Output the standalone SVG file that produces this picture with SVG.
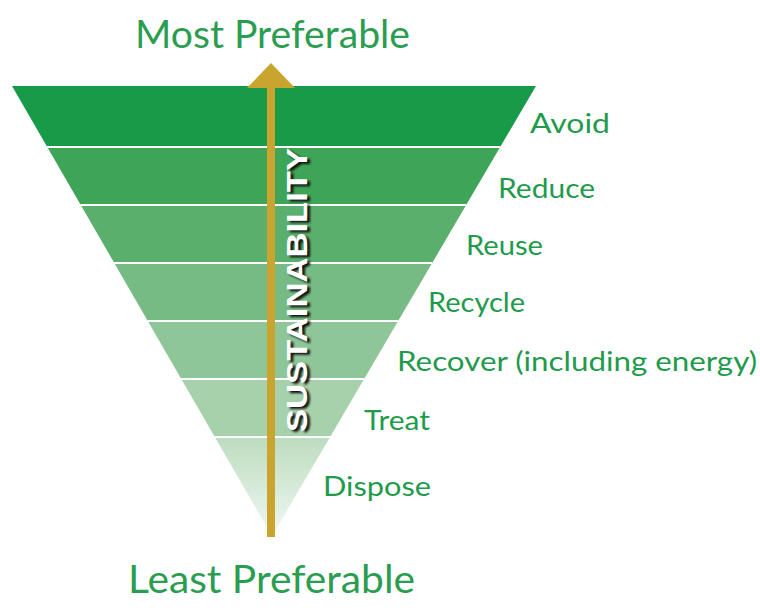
<svg xmlns="http://www.w3.org/2000/svg" width="760" height="612" viewBox="0 0 760 612">
<style>
.lbl{font-family:"Lato","Open Sans","Noto Sans",sans-serif;font-size:27px;fill:#1f9b4c}
.ttl{font-family:"Lato","Open Sans","Noto Sans",sans-serif;font-size:38px;fill:#2a9d50}
.sep{stroke:#ffffff;stroke-width:2}
.sus{font-family:"Liberation Sans",Arial,sans-serif;font-weight:bold;font-size:30px}
</style>
<defs>
<linearGradient id="tip" x1="0" y1="0" x2="0" y2="1">
<stop offset="0" stop-color="#bcdcbf"/>
<stop offset="1" stop-color="#f2f8f2"/>
</linearGradient>
<filter id="blur" x="-10%" y="-10%" width="120%" height="120%"><feGaussianBlur stdDeviation="1.2"/></filter>
<clipPath id="tri"><polygon points="12,86 536,86 272,536"/></clipPath>
</defs>
<g id="pyramid" clip-path="url(#tri)">
<rect x="0" y="86" width="760" height="61" fill="#179b48"/>
<rect x="0" y="147" width="760" height="58" fill="#3ea457"/>
<rect x="0" y="205" width="760" height="58" fill="#5aaf6c"/>
<rect x="0" y="263" width="760" height="58" fill="#76bb83"/>
<rect x="0" y="321" width="760" height="58" fill="#8fc698"/>
<rect x="0" y="379" width="760" height="58" fill="#a7d1ab"/>
<rect x="0" y="437" width="760" height="100" fill="url(#tip)"/>
<line class="sep" x1="0" y1="147" x2="760" y2="147"/>
<line class="sep" x1="0" y1="205" x2="760" y2="205"/>
<line class="sep" x1="0" y1="263" x2="760" y2="263"/>
<line class="sep" x1="0" y1="321" x2="760" y2="321"/>
<line class="sep" x1="0" y1="379" x2="760" y2="379"/>
<line class="sep" x1="0" y1="437" x2="760" y2="437"/>
</g>
<g id="arrow">
<rect x="267" y="86" width="8" height="451" fill="#c9a530"/>
<polygon points="247,88 295,88 271,63" fill="#c9a530"/>
</g>
<g id="sustainability">
<text class="sus" transform="translate(310,292) rotate(-90)" text-anchor="middle" textLength="284" lengthAdjust="spacingAndGlyphs" fill="#111" filter="url(#blur)">SUSTAINABILITY</text>
<text class="sus" transform="translate(307,290) rotate(-90)" text-anchor="middle" textLength="284" lengthAdjust="spacingAndGlyphs" fill="#ffffff">SUSTAINABILITY</text>
</g>
<g id="labels">
<text class="lbl" x="530" y="133" textLength="80" lengthAdjust="spacingAndGlyphs">Avoid</text>
<text class="lbl" x="498" y="198" textLength="97" lengthAdjust="spacingAndGlyphs">Reduce</text>
<text class="lbl" x="466" y="255" textLength="77" lengthAdjust="spacingAndGlyphs">Reuse</text>
<text class="lbl" x="428" y="312" textLength="97" lengthAdjust="spacingAndGlyphs">Recycle</text>
<text class="lbl" x="397" y="371" textLength="360" lengthAdjust="spacingAndGlyphs">Recover (including energy)</text>
<text class="lbl" x="364" y="430" textLength="66" lengthAdjust="spacingAndGlyphs">Treat</text>
<text class="lbl" x="323" y="496" textLength="108" lengthAdjust="spacingAndGlyphs">Dispose</text>
</g>
<g id="titles">
<text class="ttl" x="135" y="48" textLength="275" lengthAdjust="spacingAndGlyphs">Most Preferable</text>
<text class="ttl" x="128" y="593" textLength="287" lengthAdjust="spacingAndGlyphs">Least Preferable</text>
</g>
</svg>
